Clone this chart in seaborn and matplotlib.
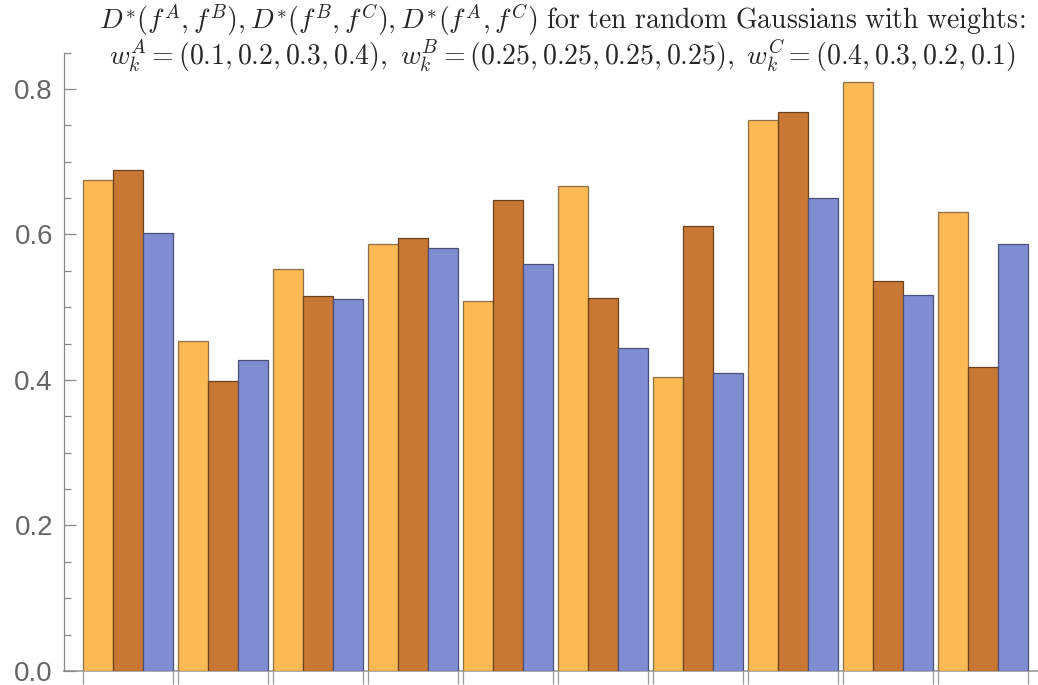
import numpy as np
import pandas as pd
import seaborn as sns
import matplotlib.pyplot as plt
from matplotlib.ticker import MultipleLocator

# valores (10 gaussianas, 3 distancias)
grupos = [1, 2, 3, 4, 5, 6, 7, 8, 9, 10]
d_ab = [0.675, 0.453, 0.553, 0.587, 0.508, 0.666, 0.404, 0.758, 0.809, 0.631]
d_bc = [0.689, 0.398, 0.515, 0.595, 0.648, 0.513, 0.611, 0.768, 0.536, 0.418]
d_ac = [0.602, 0.428, 0.511, 0.581, 0.559, 0.444, 0.409, 0.650, 0.517, 0.587]
pares = ["AB", "BC", "AC"]
yticks = [0.0, 0.2, 0.4, 0.6, 0.8]

colores = ["#FBBA53", "#C87834", "#7F8DD3"]
bordes = ["#8C7048", "#6A4220", "#4A5078"]

df = pd.DataFrame({
    "grupo": grupos * 3,
    "valor": d_ab + d_bc + d_ac,
    "par": [p for p in pares for _ in grupos],
})

sns.set_style("white")
plt.rcParams["mathtext.fontset"] = "cm"

fig = plt.figure(figsize=(10.38, 6.85), dpi=100)
ax = fig.add_axes([64 / 1038, 1 - 671 / 685, 1 - 64 / 1038, (671 - 52.6) / 685])

sns.barplot(data=df, x="grupo", y="valor", hue="par", hue_order=pares,
            palette=colores, width=0.947, saturation=1, errorbar=None,
            linewidth=0.9, legend=False, ax=ax)

for cont, borde in zip(ax.containers, bordes):
    for barra in cont:
        barra.set_edgecolor(borde)

ax.set_xlim(-0.674, 9.58)
ax.set_ylim(0, 0.85)
ax.set_xlabel("")
ax.set_ylabel("")

# ticks en los bordes de cada grupo
bordes_x = []
for i in range(len(grupos)):
    bordes_x += [i - 0.4735, i + 0.4735]
ax.set_xticks(bordes_x)
ax.set_xticklabels([])
ax.tick_params(axis="x", bottom=True, direction="out", length=9.5, width=0.9,
               color="#999999")

ax.set_yticks(yticks)
ax.set_yticklabels([f"{v:.1f}" for v in yticks], fontsize=20,
                   fontfamily="Liberation Sans", color="#666666")
ax.yaxis.set_minor_locator(MultipleLocator(0.05))
ax.tick_params(axis="y", which="major", left=True, direction="in", length=8.5,
               width=0.9, color="#888888", pad=8)
ax.tick_params(axis="y", which="minor", left=True, direction="in", length=5,
               width=0.9, color="#888888")

for s in ["top", "right"]:
    ax.spines[s].set_visible(False)
ax.spines["left"].set_color("#888888")
ax.spines["left"].set_linewidth(0.9)
ax.spines["bottom"].set_color("#AAAAAA")
ax.spines["bottom"].set_linewidth(1.4)
ax.spines["bottom"].set_zorder(0.5)

fig.text(562 / 1038, 1 - 20 / 685,
         r"$D^{*}(f^{A},f^{B}),D^{*}(f^{B},f^{C}),D^{*}(f^{A},f^{C})\ \mathrm{for\ ten\ random\ Gaussians\ with\ weights}\!:$",
         ha="center", va="center", fontsize=20)
fig.text(562 / 1038, 1 - 56 / 685,
         r"$w_k^A=(0.1,0.2,0.3,0.4),\ w_k^B=(0.25,0.25,0.25,0.25),\ w_k^C=(0.4,0.3,0.2,0.1)$",
         ha="center", va="center", fontsize=20)

fig.savefig("out.png", dpi=100)
